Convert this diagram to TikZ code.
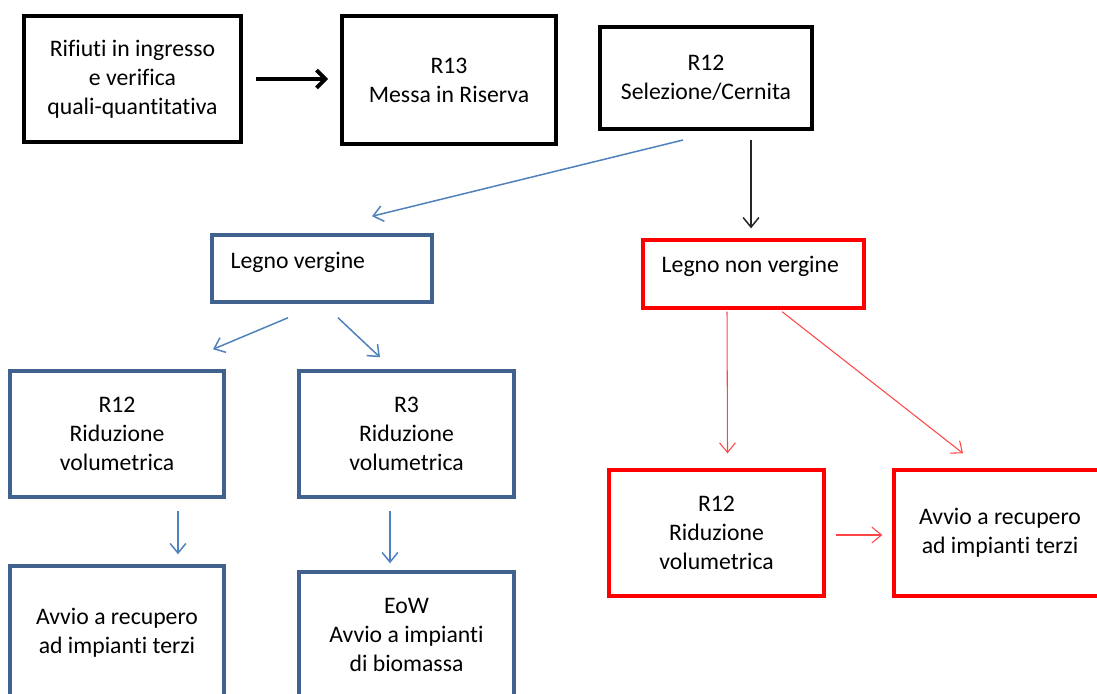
\documentclass[tikz,border=0pt]{standalone}
\usepackage{fontspec}
\setmainfont[Ligatures={NoCommon}]{Carlito}
\usepackage{tikz}
\usetikzlibrary{positioning, arrows.meta, calc}
\definecolor{boxblue}{RGB}{65,97,143}
\definecolor{lineblue}{RGB}{79,129,189}
\definecolor{boxred}{RGB}{255,0,0}
\definecolor{linered}{RGB}{255,70,70}

\begin{document}
\begin{tikzpicture}[x=0.02cm, y=-0.02cm,
  every node/.style={inner sep=2pt, align=center, font=\fontsize{13.5}{16.5}\selectfont},
  blk/.style={draw, line width=2.3pt},
  blu/.style={draw=boxblue, line width=2pt},
  rd/.style={draw=boxred, line width=1.9pt},
  barb/.style={-{Straight Barb[length=5.5pt, width=9pt]}},
  barrow/.style={barb, lineblue, line width=0.85pt},
  rarrow/.style={barb, linered, line width=0.6pt}]
\clip (0,0) rectangle (1097,693);

% top row
\node[blk, minimum width=4.34cm, minimum height=2.52cm] (in) at (132.5,79)
  {Rifiuti in ingresso\\e verifica\\quali-quantitativa};
\node[blk, minimum width=4.28cm, minimum height=2.56cm] (r13) at (449,80)
  {R13\\Messa in Riserva};
\node[blk, minimum width=4.24cm, minimum height=2.04cm] (sel) at (706,78)
  {R12\\Selezione/Cernita};

% legno vergine
\node[blu, minimum width=4.4cm, minimum height=1.34cm,
  label={[anchor=west, xshift=0.33cm, yshift=0.13cm]west:Legno vergine}] (lv) at (322,268.5) {};
\node[blu, minimum width=4.28cm, minimum height=2.52cm] (r12a) at (117,434)
  {R12\\Riduzione\\volumetrica};
\node[blu, minimum width=4.3cm, minimum height=2.52cm] (r3) at (406.5,434)
  {R3\\Riduzione\\volumetrica};
\node[blu, minimum width=4.28cm, minimum height=2.68cm] (av1) at (117,633)
  {Avvio a recupero\\ad impianti terzi};
\node[blu, minimum width=4.3cm, minimum height=2.52cm] (eow) at (406.5,635)
  {EoW\\Avvio a impianti\\di biomassa};

% legno non vergine
\node[rd, minimum width=4.42cm, minimum height=1.36cm,
  label={[anchor=west, xshift=0.33cm, yshift=0.16cm]west:Legno non vergine}] (lnv) at (753.5,274) {};
\node[rd, minimum width=4.3cm, minimum height=2.52cm] (r12r) at (716.5,533)
  {R12\\Riduzione\\volumetrica};
\node[rd, minimum width=4.24cm, minimum height=2.52cm] (av2) at (1000,533)
  {Avvio a recupero\\ad impianti terzi};

% connectors
\draw[line width=2.2pt, -{Straight Barb[length=5pt, width=10pt]},
  shorten <=0.26cm, shorten >=0.24cm] (in.east) -- (in.east -| r13.west);
\draw[barrow] ($(sel.south)+(-23,9)$) -- ($(lv.north)+(50,-17)$);
\coordinate (s3) at ($(sel.south)+(45,9)$);
\draw[barb, black!85, line width=0.85pt, shorten >=0.2cm] (s3) -- (s3 |- lnv.north);

\draw[barrow] ($(lv.south)+(-34,14)$) -- ($(r12a.north)+(96,-20)$);
\draw[barrow] ($(lv.south)+(16,14)$) -- ($(r3.north)+(-26.5,-12)$);
\draw[barrow] ($(r12a.south)+(61,12)$) -- ($(av1.north)+(61,-10)$);
\draw[barrow] ($(r3.south)+(-16.5,12)$) -- ($(eow.north)+(-16.5,-7)$);

\draw[rarrow] ($(lnv.south)+(-26.5,2)$) -- ($(r12r.north)+(11,-15)$);
\draw[rarrow] ($(lnv.south)+(28.5,2)$) -- ($(av2.north)+(-37,-15)$);
\draw[rarrow] ($(r12r.east)+(10,2)$) -- ($(av2.west)+(-10,2)$);
\end{tikzpicture}
\end{document}
